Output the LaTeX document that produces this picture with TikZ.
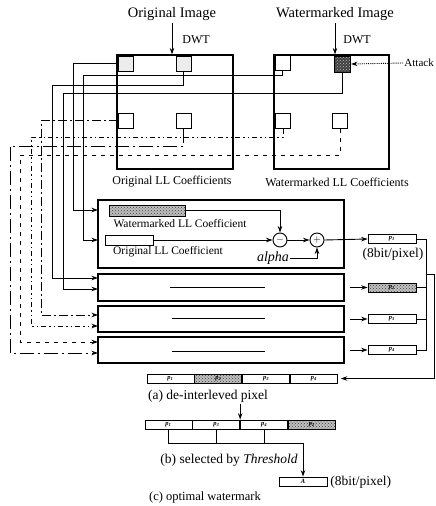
\documentclass[tikz,border=0pt]{standalone}
\usepackage{fontspec}
\setmainfont{Liberation Serif}
\usetikzlibrary{positioning,patterns,arrows.meta}

\begin{document}
\begin{tikzpicture}[
    x=1pt, y=-1pt,
    line width=0.9pt,
    title/.style={font=\fontsize{14.5}{16}\selectfont, inner sep=2pt},
    caption/.style={font=\fontsize{13.5}{15}\selectfont, inner sep=1pt},
    small/.style={font=\fontsize{11.5}{13}\selectfont, inner sep=1pt},
    llbox/.style={draw, line width=1.2pt, minimum width=116pt, minimum height=114pt, inner sep=0pt},
    coef/.style={draw, line width=1pt, minimum size=15pt, inner sep=0pt},
    procbox/.style={draw, line width=1.2pt, minimum width=246pt, inner sep=0pt},
    bar/.style={draw, line width=0.9pt, minimum height=10pt, inner sep=0pt},
    cell/.style={draw, line width=0.8pt, minimum width=47pt, minimum height=9pt, inner sep=0pt, font=\fontsize{6.5}{6.5}\selectfont\bfseries\itshape},
    pix/.style={cell, minimum width=48pt},
    hatch/.style={preaction={fill=gray!50}, pattern=crosshatch dots, pattern color=black!75},
    darkhatch/.style={preaction={fill=black!75}, pattern=crosshatch dots, pattern color=gray!50},
    stipple/.style={fill=gray!15},
    op/.style={draw, circle, line width=0.9pt, minimum size=14pt, inner sep=0pt},
    arr/.style={->, >={Stealth[length=6.5pt, width=4.5pt]}},
    tapA/.style={dash pattern=on 9pt off 3pt on 2pt off 3pt},
    tapB/.style={dash pattern=on 5pt off 3pt on 1.5pt off 3pt on 1.5pt off 3pt},
    tapC/.style={dash pattern=on 14pt off 4pt on 2pt off 4pt},
    tapD/.style={dash pattern=on 4pt off 5pt},
]
    \useasboundingbox (0,0) rectangle (436,506);

    % Titles and DWT
    \node[title] (otitle) at (172,14) {Original Image};
    \node[title] (wtitle) at (335,14) {Watermarked Image};

    % LL coefficient planes
    \node[llbox] (oLL) at (175,112) {};
    \node[llbox, minimum width=115pt] (wLL) at (331.5,112) {};
    \node[title, font=\fontsize{12}{13}\selectfont] at (196,40) {DWT};
    \node[title, font=\fontsize{12}{13}\selectfont] at (357,40) {DWT};
    \draw[arr] (otitle.south) -- (otitle.south |- oLL.north);
    \draw[arr] (wtitle.south) -- (wtitle.south |- wLL.north);
    \node[font=\fontsize{12}{14}\selectfont] (olab) at (172,182) {Original LL Coefficients};
    \node[font=\fontsize{12}{14}\selectfont] (wlab) at (337,182) {Watermarked LL Coefficients};

    % Selected coefficients
    \node[coef, stipple] (oTL) at (126,63.5) {};
    \node[coef, stipple] (oTR) at (183.5,63.5) {};
    \node[coef] (oML) at (126,120.5) {};
    \node[coef] (oMR) at (183.5,120.5) {};
    \node[coef] (wTL) at (282.5,63) {};
    \node[coef, darkhatch, minimum size=16pt] (wTR) at (342.5,64) {};
    \node[coef] (wML) at (283,121) {};
    \node[coef] (wMR) at (340,121) {};

    % Attack
    \node[title, font=\fontsize{11}{12}\selectfont, anchor=west, inner sep=1pt] (attack) at (403,63) {Attack};
    \draw[arr, densely dotted] (attack.west) -- (wTR.east);

    % Processing rows
    \node[procbox, minimum height=68pt] (box1) at (221,234) {};
    \node[procbox, minimum height=27pt] (box2) at (221,287.5) {};
    \node[procbox, minimum height=26pt] (box3) at (221,319) {};
    \node[procbox, minimum height=26pt] (box4) at (221,350) {};
    \coordinate (in1) at (98,210);
    \coordinate (in2) at (98,240);
    \coordinate (in3) at (98,278);
    \coordinate (in4) at (98,289);
    \coordinate (in5) at (98,315);
    \coordinate (in6) at (98,326);
    \coordinate (in7) at (98,342);
    \coordinate (in8) at (98,353);

    % Taps to the rows
    \draw[arr] (oTL.west) -- (73,63.5) |- (in1);
    \draw[arr] (wTL.south) |- (83,75) |- (in2);
    \draw[arr] (oTR.south) |- (52,85) |- (in3);
    \draw[arr] (wTR.south) |- (63,93) |- (in4);
    \draw[arr, tapA] (oML.west) -- (41,120.5) |- (in5);
    \draw[arr, tapB] (wML.south) |- (31,137) |- (in6);
    \draw[arr, tapC] (oMR.south) |- (10,146) |- (in8);
    \draw[arr, tapD] (wMR.south) |- (20,155) |- (in7);

    % Row 1 detail
    \node[bar, hatch, minimum width=76pt, minimum height=11pt] (wmbar) at (147,210.5) {};
    \node[small] (wmtxt) at (180,224) {Watermarked LL Coefficient};
    \node[bar, minimum width=48pt] (orbar) at (129,240) {};
    \node[small] (ortxt) at (168,252) {Original LL Coefficient};
    \node[op] (minus) at (280,240) {$-$};
    \node[op] (plus) at (317,240) {$+$};
    \node[font=\fontsize{14}{16}\selectfont\itshape, inner sep=1pt] (alpha) at (273,258) {alpha};
    \draw[arr] (wmbar.east) -| (minus.north);
    \draw[arr] (orbar.east) -- (minus.west);
    \draw[arr] (minus.east) -- (plus.west);
    \draw[arr] (alpha.east) -| (plus.south);

    % Rows 2-4 detail
    \draw (170,287.5) -- (265,287.5);
    \draw (172,318) -- (265,318);
    \draw (172,351) -- (265,351);

    % Output pixels
    \node[pix] (p1) at (392,239) {p\textsubscript{1}};
    \node[pix, hatch] (p2) at (392,287.5) {p\textsubscript{2}};
    \node[pix] (p3) at (392,319) {p\textsubscript{3}};
    \node[pix] (p4) at (392,350) {p\textsubscript{4}};
    \node[caption] (bit1) at (393,254) {(8bit/pixel)};
    \draw[arr] (plus.east) -- (p1.west);
    \draw[arr] ([xshift=5pt]box2.east) -- (p2.west);
    \draw[arr] ([xshift=5pt]box3.east) -- (p3.west);
    \draw[arr] ([xshift=5pt]box4.east) -- (p4.west);

    % Collect
    \coordinate (bus) at (426,239);
    \draw (p1.east) -- (bus) |- (p4.east);
    \draw (p2.east) -- (p2.east -| bus);
    \draw (p3.east) -- (p3.east -| bus);

    % (a) de-interleaved
    \node[cell] (a1) at (170.5,378.5) {p\textsubscript{1}};
    \node[cell, hatch, right=0pt of a1] (a2) {p\textsubscript{2}};
    \node[cell, right=0pt of a2] (a3) {p\textsubscript{3}};
    \node[cell, right=0pt of a3] (a4) {p\textsubscript{4}};
    \draw[arr] (426,274) -- (434.5,274) |- ([xshift=3pt]a4.east);
    \node[caption] (capA) at (208,396) {(a) de-interleved pixel};

    % (b) selected
    \node[cell] (b1) at (168.5,424.5) {p\textsubscript{1}};
    \node[cell, right=0pt of b1] (b3) {p\textsubscript{3}};
    \node[cell, right=0pt of b3] (b4) {p\textsubscript{4}};
    \node[cell, hatch, right=0pt of b4] (b2) {p\textsubscript{2}};
    \draw[arr] (capA.south -| b4.west) -- (b4.north west);
    \node[caption] (capB) at (229,460) {(b) selected by \textit{Threshold}};

    % (c) optimal watermark
    \node[pix] (A) at (303,481.5) {A};
    \coordinate (sel) at (303,443);
    \draw (b1.south) |- (sel);
    \draw (b3.south) -- (b3.south |- sel);
    \draw (b4.south) -- (b4.south |- sel);
    \draw[arr] (sel) -- (A.north);
    \node[caption, anchor=west] (bit2) at (329,482) {(8bit/pixel)};
    \node[caption, font=\fontsize{12.5}{14}\selectfont] (capC) at (205,497) {(c) optimal watermark};
\end{tikzpicture}
\end{document}
